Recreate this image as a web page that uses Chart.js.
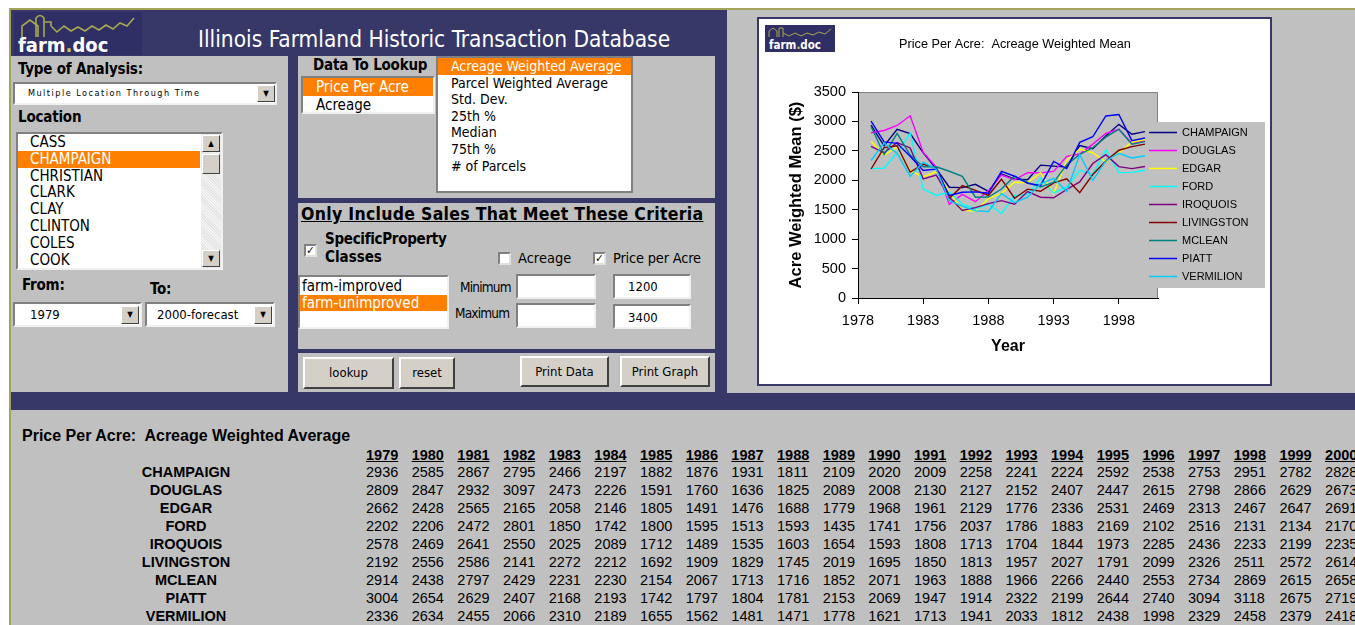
<!DOCTYPE html>
<html>
<head>
<meta charset="utf-8">
<title>Illinois Farmland Historic Transaction Database</title>
<script src="https://cdn.jsdelivr.net/npm/chart.js@4.4.0/dist/chart.umd.min.js"></script>
<style>
  body { margin: 0; width: 1355px; height: 625px; overflow: hidden; background: #fff; position: relative;
         font-family: "DejaVu Sans Condensed", "DejaVu Sans", sans-serif; font-stretch: condensed; }
  .a { position: absolute; white-space: nowrap; }
  .navy { background: #383868; }
  .grey { background: #c0c0c0; }
  .lbl { font-weight: bold; font-size: 15px; letter-spacing: -0.2px; color: #000; }
  .box { background: #fff; box-sizing: border-box; border: 2px solid; border-color: #808080 #f0f0f0 #f0f0f0 #808080; }
  .sel { background: #ff8000; color: #fff; }
  .btn { background: #d4d0c8; box-sizing: border-box; border: 2px solid; border-color: #fff #404040 #404040 #fff;
         font-size: 13px; text-align: center; }
  .arrow { background: #d4d0c8; box-sizing: border-box; border: 1px solid; border-color: #fff #404040 #404040 #fff;
           font-size: 8px; text-align: center; line-height: 15px; }
  .chk { background: #fff; width: 13px; height: 13px; box-sizing: border-box; border: 2px solid;
         border-color: #808080 #e0e0e0 #e0e0e0 #808080; font-size: 11px; line-height: 9px; text-align: center; font-weight: bold; }
  .item { font-size: 15px; line-height: 16.8px; }
  .tbl { font-family: "Liberation Sans", Arial, sans-serif; font-size: 14.5px; }
</style>
</head>
<body>
<!-- frame lines -->
<div class="a" style="left:9px;top:8px;width:1346px;height:2px;background:#a3a35a"></div>
<div class="a" style="left:9px;top:8px;width:2px;height:617px;background:#a3a35a"></div>
<div class="a grey" style="left:11px;top:10px;width:1344px;height:615px"></div>

<!-- left control frame -->
<div class="a navy" style="left:11px;top:10px;width:716px;height:383px"></div>
<div class="a" style="left:14px;top:12px;width:128px;height:43px;background:#2f2f66">
  <svg width="128" height="43" style="position:absolute;left:0;top:0">
    <g fill="none" stroke="#a8a850" stroke-width="1.6">
      <path d="M8 25 L8 14 L16 8 L24 14 L24 25"/>
      <path d="M22 25 L22 6 Q26 1 30 6 L30 25"/>
      <path d="M31 10 L37 10 L37 14"/>
      <path d="M37 14 L43 20 L50 14 L57 19 L64 15 L71 19 L78 14 L85 18 L92 13 L99 17 L106 11 L113 14 L120 6"/>
    </g>
    <text x="4" y="40" fill="#fff" font-family="DejaVu Sans" font-weight="bold" font-size="20">farm<tspan fill="#c8c850">.</tspan>doc</text>
  </svg>
</div>
<div class="a" style="left:198px;top:26px;color:#fff;font-size:22.5px;font-stretch:condensed">Illinois Farmland Historic Transaction Database</div>

<!-- left panel -->
<div class="a grey" style="left:11px;top:56px;width:277px;height:336px"></div>
<div class="a lbl" style="left:18px;top:60px">Type of Analysis:</div>
<div class="a box" style="left:13px;top:82px;width:264px;height:23px">
  <div class="a" style="left:13px;top:4px;font-size:9px;letter-spacing:1.5px">Multiple Location Through Time</div>
  <div class="a arrow" style="left:242px;top:1px;width:18px;height:17px">&#9660;</div>
</div>
<div class="a lbl" style="left:18px;top:108px">Location</div>
<div class="a box" style="left:16px;top:132px;width:207px;height:138px;overflow:hidden" id="locBox">
  <div class="a" style="left:183px;top:0;width:20px;height:134px;background:repeating-linear-gradient(45deg,#e4e4e4 0 1px,#f4f4f4 1px 2px)"></div>
  <div class="a arrow" style="left:184px;top:1px;width:18px;height:17px">&#9650;</div>
  <div class="a arrow" style="left:184px;top:20px;width:18px;height:20px"></div>
  <div class="a arrow" style="left:184px;top:116px;width:18px;height:17px">&#9660;</div>
</div>
<div class="a lbl" style="left:22px;top:276px">From:</div>
<div class="a lbl" style="left:150px;top:280px">To:</div>
<div class="a box" style="left:13px;top:302px;width:129px;height:25px">
  <div class="a" style="left:15px;top:3px;font-size:13px">1979</div>
  <div class="a arrow" style="left:106px;top:2px;width:18px;height:18px">&#9660;</div>
</div>
<div class="a box" style="left:145px;top:302px;width:130px;height:25px">
  <div class="a" style="left:10px;top:3px;font-size:13px">2000-forecast</div>
  <div class="a arrow" style="left:107px;top:2px;width:18px;height:18px">&#9660;</div>
</div>

<!-- data to lookup panel -->
<div class="a grey" style="left:298px;top:56px;width:417px;height:142px"></div>
<div class="a lbl" style="left:313px;top:56px">Data To Lookup</div>
<div class="a box" style="left:301px;top:76px;width:134px;height:38px">
  <div class="a sel item" style="left:0;top:0;width:130px;height:18px;line-height:18px"><span style="margin-left:13px">Price Per Acre</span></div>
  <div class="a item" style="left:13px;top:18px;line-height:18px">Acreage</div>
</div>
<div class="a box" style="left:436px;top:56px;width:197px;height:137px;border-color:#808080" id="statBox"></div>

<!-- criteria panel -->
<div class="a grey" style="left:298px;top:203px;width:417px;height:146px"></div>
<div class="a" style="left:301px;top:204px;font-weight:bold;font-size:17.5px;text-decoration:underline;letter-spacing:0.3px">Only Include Sales That Meet These Criteria</div>
<div class="a chk" style="left:304px;top:244px">&#10003;</div>
<div class="a" style="left:325px;top:230px;font-weight:bold;font-size:15px;letter-spacing:-0.3px">SpecificProperty</div>
<div class="a" style="left:325px;top:248px;font-weight:bold;font-size:15px">Classes</div>
<div class="a chk" style="left:498px;top:252px"></div>
<div class="a" style="left:518px;top:250px;font-size:14.5px">Acreage</div>
<div class="a chk" style="left:593px;top:252px">&#10003;</div>
<div class="a" style="left:613px;top:250px;font-size:14.5px;letter-spacing:-0.2px">Price per Acre</div>
<div class="a box" style="left:298px;top:275px;width:151px;height:54px">
  <div class="a" style="left:2px;top:1px;font-size:15px;line-height:17px">farm-improved</div>
  <div class="a sel" style="left:0;top:18px;width:147px;height:16px;font-size:15px;line-height:16px"><span style="margin-left:2px">farm-unimproved</span></div>
</div>
<div class="a" style="left:460px;top:279px;font-size:13.5px;letter-spacing:-0.8px">Minimum</div>
<div class="a" style="left:455px;top:305px;font-size:13.5px;letter-spacing:-0.8px">Maximum</div>
<div class="a box" style="left:516px;top:274px;width:80px;height:25px"></div>
<div class="a box" style="left:516px;top:303px;width:80px;height:25px"></div>
<div class="a box" style="left:613px;top:274px;width:78px;height:25px"><div class="a" style="left:13px;top:3px;font-size:13px">1200</div></div>
<div class="a box" style="left:613px;top:304px;width:78px;height:25px"><div class="a" style="left:13px;top:4px;font-size:13px">3400</div></div>

<!-- button panel -->
<div class="a grey" style="left:298px;top:353px;width:417px;height:39px"></div>
<div class="a btn" style="left:303px;top:357px;width:91px;height:32px;line-height:28px">lookup</div>
<div class="a btn" style="left:399px;top:357px;width:56px;height:32px;line-height:28px">reset</div>
<div class="a btn" style="left:520px;top:356px;width:89px;height:31px;line-height:27px">Print Data</div>
<div class="a btn" style="left:620px;top:356px;width:90px;height:31px;line-height:27px">Print Graph</div>

<!-- separator band -->
<div class="a navy" style="left:11px;top:393px;width:1344px;height:17px"></div>

<!-- chart panel -->
<div class="a" style="left:757px;top:17px;width:515px;height:369px;background:#fff;border:2px solid #383868;box-sizing:border-box"></div>
<canvas id="priceChart" class="a" width="510" height="362" style="left:760px;top:20px;width:510px;height:362px"></canvas>
<div class="a" style="left:765px;top:25px;width:70px;height:27px;background:#2f2f66">
  <svg width="70" height="27" style="position:absolute;left:0;top:0">
    <path d="M4 12 L4 6 L8 3 L12 6 L12 12 M14 12 L14 3 L18 3 L18 12 M18 8 L24 11 L30 8 L36 11 L42 8 L48 10 L54 7 L60 9 L66 4" fill="none" stroke="#a8a850" stroke-width="1"/>
    <text x="4" y="24" fill="#fff" font-family="DejaVu Sans" font-weight="bold" font-size="11.5">farm<tspan fill="#c8c850">.</tspan>doc</text>
  </svg>
</div>

<!-- data table -->
<div class="a tbl" style="left:22px;top:427px;font-weight:bold;font-size:16px">Price Per Acre:&nbsp; Acreage Weighted Average</div>
<div id="dataTable"></div>

<script>
// Locations and years
const counties = ['CHAMPAIGN', 'DOUGLAS', 'EDGAR', 'FORD', 'IROQUOIS', 'LIVINGSTON', 'MCLEAN', 'PIATT', 'VERMILION'];
const years = [1979, 1980, 1981, 1982, 1983, 1984, 1985, 1986, 1987, 1988, 1989, 1990,
               1991, 1992, 1993, 1994, 1995, 1996, 1997, 1998, 1999, 2000];

// Price per acre, acreage weighted average ($)
const champaign  = [2936, 2585, 2867, 2795, 2466, 2197, 1882, 1876, 1931, 1811, 2109, 2020, 2009, 2258, 2241, 2224, 2592, 2538, 2753, 2951, 2782, 2828];
const douglas    = [2809, 2847, 2932, 3097, 2473, 2226, 1591, 1760, 1636, 1825, 2089, 2008, 2130, 2127, 2152, 2407, 2447, 2615, 2798, 2866, 2629, 2673];
const edgar      = [2662, 2428, 2565, 2165, 2058, 2146, 1805, 1491, 1476, 1688, 1779, 1968, 1961, 2129, 1776, 2336, 2531, 2469, 2313, 2467, 2647, 2691];
const ford       = [2202, 2206, 2472, 2801, 1850, 1742, 1800, 1595, 1513, 1593, 1435, 1741, 1756, 2037, 1786, 1883, 2169, 2102, 2516, 2131, 2134, 2170];
const iroquois   = [2578, 2469, 2641, 2550, 2025, 2089, 1712, 1489, 1535, 1603, 1654, 1593, 1808, 1713, 1704, 1844, 1973, 2285, 2436, 2233, 2199, 2235];
const livingston = [2192, 2556, 2586, 2141, 2272, 2212, 1692, 1909, 1829, 1745, 2019, 1695, 1850, 1813, 1957, 2027, 1791, 2099, 2326, 2511, 2572, 2614];
const mclean     = [2914, 2438, 2797, 2429, 2231, 2230, 2154, 2067, 1713, 1716, 1852, 2071, 1963, 1888, 1966, 2266, 2440, 2553, 2734, 2869, 2615, 2658];
const piatt      = [3004, 2654, 2629, 2407, 2168, 2193, 1742, 1797, 1804, 1781, 2153, 2069, 1947, 1914, 2322, 2199, 2644, 2740, 3094, 3118, 2675, 2719];
const vermilion  = [2336, 2634, 2455, 2066, 2310, 2189, 1655, 1562, 1481, 1471, 1778, 1621, 1713, 1941, 2033, 1812, 2438, 1998, 2329, 2458, 2379, 2418];

const seriesValues = [champaign, douglas, edgar, ford, iroquois, livingston, mclean, piatt, vermilion];
const lineColors = ['#000080', '#ff00ff', '#ffff00', '#00ffff', '#800080', '#800000', '#008080', '#0000ff', '#00ccff'];

const xTicks = [1978, 1983, 1988, 1993, 1998];

// list contents for the form controls
const locationList = ['CASS', 'CHAMPAIGN', 'CHRISTIAN', 'CLARK', 'CLAY', 'CLINTON', 'COLES', 'COOK'];
const statList = ['Acreage Weighted Average', 'Parcel Weighted Average', 'Std. Dev.', '25th %', 'Median', '75th %', '# of Parcels'];

// Fill the list boxes
const locBox = document.getElementById('locBox');
locationList.forEach((name, i) => {
  const d = document.createElement('div');
  d.className = 'a item' + (name === 'CHAMPAIGN' ? ' sel' : '');
  d.style.left = '0px';
  d.style.top = (i * 16.8) + 'px';
  d.style.width = '182px';
  d.innerHTML = '<span style="margin-left:12px">' + name + '</span>';
  locBox.appendChild(d);
});
const statBox = document.getElementById('statBox');
statList.forEach((name, i) => {
  const d = document.createElement('div');
  d.className = 'a item' + (i === 0 ? ' sel' : '');
  d.style.left = '0px';
  d.style.top = (i * 16.6) + 'px';
  d.style.width = '193px';
  d.style.fontSize = '14px';
  d.innerHTML = '<span style="margin-left:13px">' + name + '</span>';
  statBox.appendChild(d);
});

// Data table below the form
const tableDiv = document.getElementById('dataTable');
let html = '';
const colX = i => 366 + i * 45.67;
years.forEach((yr, i) => {
  html += `<div class="a tbl" style="left:${colX(i)}px;top:447px;font-weight:bold;text-decoration:underline">${yr}</div>`;
});
counties.forEach((name, r) => {
  const top = 464 + r * 18;
  html += `<div class="a tbl" style="left:86px;width:200px;text-align:center;top:${top}px;font-weight:bold">${name}</div>`;
  seriesValues[r].forEach((v, i) => {
    html += `<div class="a tbl" style="left:${colX(i)}px;top:${top}px">${v}</div>`;
  });
});
tableDiv.innerHTML = html;

// Chart plugins: grey plot area and legend box drawn over it
const plotBg = {
  id: 'plotBg',
  beforeDraw(chart) {
    const { ctx, chartArea: a } = chart;
    ctx.save();
    ctx.fillStyle = '#c0c0c0';
    ctx.fillRect(a.left, a.top, a.width, a.height);
    ctx.strokeStyle = '#808080';
    ctx.lineWidth = 1;
    ctx.beginPath();
    ctx.moveTo(a.left, a.top + 0.5);
    ctx.lineTo(a.right - 0.5, a.top + 0.5);
    ctx.lineTo(a.right - 0.5, a.bottom);
    ctx.stroke();
    ctx.restore();
  }
};

const boxLegend = {
  id: 'boxLegend',
  afterDraw(chart) {
    const { ctx, chartArea: a } = chart;
    const x = a.right - 11, y = a.top + 30;
    ctx.save();
    ctx.fillStyle = '#c0c0c0';
    ctx.fillRect(x, y, 118, 166);
    ctx.font = '11px "Liberation Sans", Arial, sans-serif';
    ctx.textBaseline = 'middle';
    chart.data.datasets.forEach((ds, i) => {
      const ly = Math.round(y + 10 + i * 18) + 0.5;
      ctx.strokeStyle = ds.borderColor;
      ctx.lineWidth = 1.5;
      ctx.beginPath();
      ctx.moveTo(x + 2, ly);
      ctx.lineTo(x + 30, ly);
      ctx.stroke();
      ctx.fillStyle = '#000';
      ctx.fillText(ds.label, x + 35, ly);
    });
    ctx.restore();
  }
};

const tickFont = { family: '"Liberation Sans", Arial, sans-serif', size: 14.5 };

new Chart(document.getElementById('priceChart'), {
  type: 'line',
  data: {
    labels: years,
    datasets: counties.map((name, i) => ({
      label: name,
      data: seriesValues[i],
      borderColor: lineColors[i],
      backgroundColor: lineColors[i],
      borderWidth: 1.4,
      pointRadius: 0,
      tension: 0,
      order: counties.length - i
    }))
  },
  options: {
    responsive: false,
    animation: false,
    layout: { padding: 0 },
    plugins: {
      legend: { display: false },
      tooltip: { enabled: false },
      title: {
        display: true,
        text: 'Price Per Acre:  Acreage Weighted Mean',
        color: '#000',
        font: { family: '"Liberation Sans", Arial, sans-serif', size: 12.7, weight: 'normal' },
        padding: { top: 16.5, bottom: 40.3 }
      }
    },
    scales: {
      x: {
        type: 'linear',
        min: 1978,
        max: 2001,
        afterFit: s => { s.height = 84; },
        afterBuildTicks: s => { s.ticks = xTicks.map(v => ({ value: v })); },
        ticks: { color: '#000', font: tickFont, padding: 8, callback: v => String(v), maxRotation: 0 },
        grid: { drawOnChartArea: false, drawTicks: true, tickLength: 6, color: '#000' },
        border: { display: true, color: '#000' },
        title: {
          display: true, text: 'Year', color: '#000',
          font: { family: '"Liberation Sans", Arial, sans-serif', size: 16, weight: 'bold' },
          padding: { top: 0, bottom: 26 }
        }
      },
      y: {
        min: 0,
        max: 3500,
        afterFit: s => { s.width = 98; },
        ticks: { stepSize: 500, color: '#000', font: tickFont, padding: 6, callback: v => String(v) },
        grid: { drawOnChartArea: false, drawTicks: true, tickLength: 6, color: '#000' },
        border: { display: true, color: '#000' },
        title: {
          display: true, text: 'Acre Weighted Mean ($)', color: '#000',
          font: { family: '"Liberation Sans", Arial, sans-serif', size: 16.5, weight: 'bold' },
          padding: { top: 27, bottom: 0 }
        }
      },
      // empty right-hand scale that reserves the room the legend box sits in
      yRight: {
        position: 'right',
        min: 0,
        max: 3500,
        afterFit: s => { s.width = 112; },
        ticks: { display: false },
        grid: { display: false },
        border: { display: false }
      }
    }
  },
  plugins: [plotBg, boxLegend]
});
</script>
</body>
</html>
